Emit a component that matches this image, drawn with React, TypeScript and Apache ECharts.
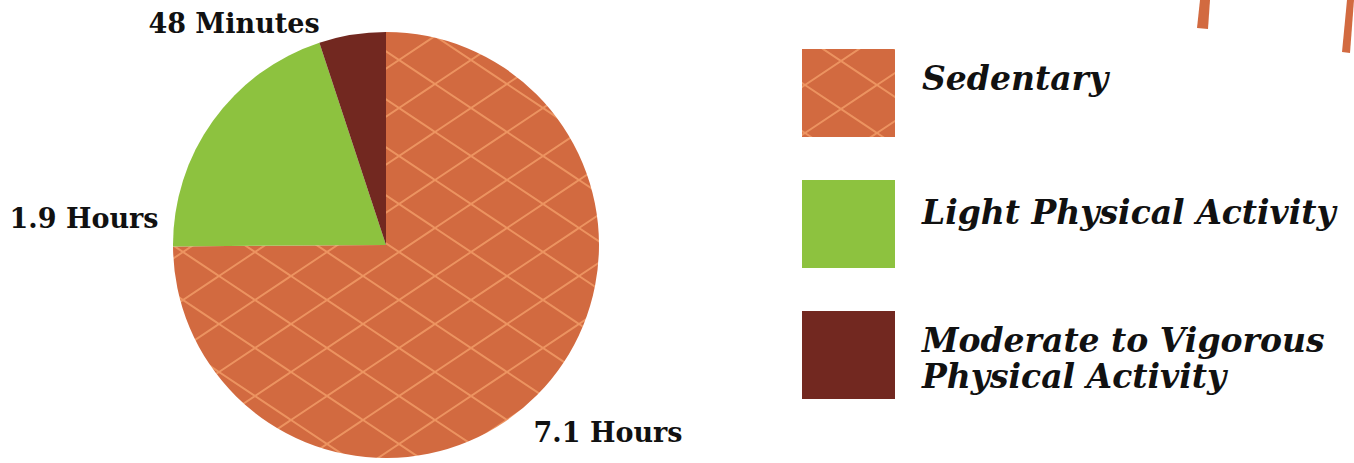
import React, { useEffect, useRef } from "react";
import * as echarts from "echarts";

const categories = ["Sedentary", "Light Physical Activity", "Moderate to Vigorous Physical Activity"];
const hours = [7.1, 1.9, 0.48];
const durationLabels = ["7.1 Hours", "1.9 Hours", "48 Minutes"];
const legendLines = [["Sedentary"], ["Light Physical Activity"], ["Moderate to Vigorous", "Physical Activity"]];
const colors = ["#d26a40", "#8dc23f", "#722820"];

function makeLattice(): HTMLCanvasElement {
  const w = 72, h = 48;
  const c = document.createElement("canvas");
  c.width = w;
  c.height = h;
  const ctx = c.getContext("2d")!;
  ctx.fillStyle = colors[0];
  ctx.fillRect(0, 0, w, h);
  ctx.strokeStyle = "rgba(238,152,100,0.9)";
  ctx.lineWidth = 2;
  const ox = 3, oy = 36;
  for (let i = -2; i <= 2; i++) {
    for (let j = -2; j <= 2; j++) {
      const x0 = ox + w * i, y0 = oy + h * j;
      ctx.beginPath();
      ctx.moveTo(x0, y0);
      ctx.lineTo(x0 + w, y0 + h);
      ctx.moveTo(x0, y0 + h);
      ctx.lineTo(x0 + w, y0);
      ctx.stroke();
    }
  }
  return c;
}

export default function App() {
  const ref = useRef<HTMLDivElement>(null);
  useEffect(() => {
    if (!ref.current) return;
    const chart = echarts.init(ref.current, undefined, { renderer: "svg" });
    const lattice = makeLattice();
    const labelPos = [
      [608, 432],
      [84, 218],
      [234, 23],
    ];
    const legendFormat = (name: string) => {
      const i = categories.indexOf(name);
      const lines = legendLines[i].map((l) => `{a|${l}}`).join("\n");
      if (i === 0) return `${lines}\n{s0| }`;
      if (i === 1) return `${lines}\n{s1| }`;
      return `{s2| }\n${lines}`;
    };
    chart.setOption({
      animation: false,
      backgroundColor: "#ffffff",
      legend: {
        orient: "vertical",
        left: 802,
        top: 49,
        padding: 0,
        itemWidth: 93,
        itemHeight: 88,
        itemGap: 43,
        icon: "rect",
        selectedMode: false,
        data: categories,
        formatter: legendFormat,
        textStyle: {
          padding: [0, 0, 0, 22],
          fontFamily: "DejaVu Serif",
          fontWeight: "bold",
          fontStyle: "italic",
          fontSize: 33,
          color: "#111111",
          rich: {
            a: {
              fontFamily: "DejaVu Serif",
              fontWeight: "bold",
              fontStyle: "italic",
              fontSize: 33,
              lineHeight: 36,
              color: "#111111",
            },
            s0: { fontSize: 1, lineHeight: 30 },
            s1: { fontSize: 1, lineHeight: 23 },
            s2: { fontSize: 1, lineHeight: 7 },
          },
        },
      },
      graphic: [
        {
          type: "polygon",
          shape: { points: [[1200, 0], [1210, 0], [1208, 29], [1197, 28]] },
          style: { fill: colors[0] },
        },
        {
          type: "polygon",
          shape: { points: [[1347, 0], [1354, 0], [1350, 53], [1342, 52]] },
          style: { fill: colors[0] },
        },
      ],
      series: [
        {
          type: "pie",
          center: [386, 245],
          radius: 213,
          startAngle: 90,
          clockwise: true,
          silent: true,
          data: categories.map((name, i) => ({
            name,
            value: hours[i],
            itemStyle: {
              color: i === 0 ? { image: lattice, repeat: "repeat" } : colors[i],
            },
          })),
          itemStyle: { borderWidth: 0 },
          label: {
            show: true,
            position: "outside",
            formatter: (p: any) => durationLabels[p.dataIndex],
            fontFamily: "DejaVu Serif",
            fontWeight: "bold",
            fontSize: 27,
            color: "#111111",
          },
          labelLine: { show: false },
          labelLayout: (p: any) => ({
            x: labelPos[p.dataIndex][0],
            y: labelPos[p.dataIndex][1],
            align: "center",
            verticalAlign: "middle",
          }),
        },
      ],
    });
    return () => chart.dispose();
  }, []);
  return (
    <div
      ref={ref}
      style={{ position: "fixed", left: 0, top: 0, width: 1354, height: 463, background: "#fff" }}
    />
  );
}
